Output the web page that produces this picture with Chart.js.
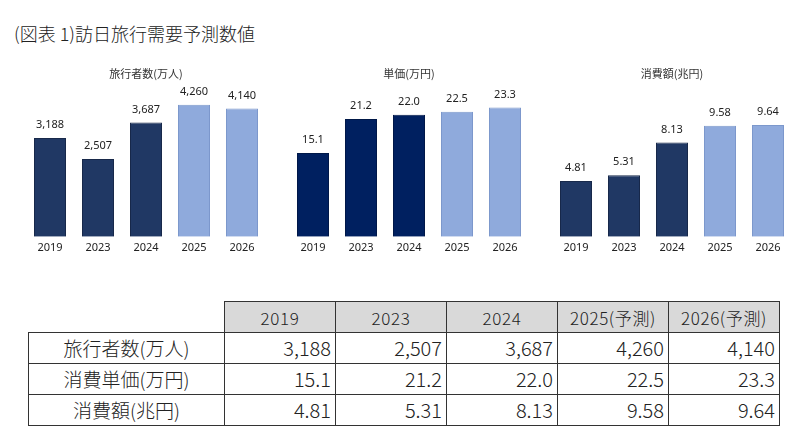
<!DOCTYPE html>
<html>
<head>
<meta charset="utf-8">
<script src="https://cdn.jsdelivr.net/npm/chart.js@4"></script>
<style>
  body { margin: 0; background: #fff; width: 800px; height: 446px; position: relative; overflow: hidden;
         font-family: "Noto Sans CJK JP", "Noto Sans", sans-serif; color: #222; }
  #title { position: absolute; left: 14px; top: 21px; font-size: 18px; line-height: 24px; font-weight: 300; }
  .box { position: absolute; top: 64px; width: 240px; height: 194px; }
  table { position: absolute; left: 28px; top: 301px; border-collapse: collapse; table-layout: fixed; font-weight: 300; }
  td, th { border: 1.5px solid #333; padding: 0; }
  th { background: #d9d9d9; font-weight: 300; font-size: 17px; letter-spacing: 0.6px; height: 30px; text-align: center; }
  th.blank { background: #fff; border-top: none; border-left: none; }
  td { font-size: 20px; text-align: right; padding-right: 4px; height: 30px; line-height: 30px; }
  td.label { font-size: 19px; text-align: center; padding-right: 0; }
</style>
</head>
<body>
<div id="title">(図表 1)訪日旅行需要予測数値</div>
<div class="box" style="left:26px"><canvas id="c1"></canvas></div>
<div class="box" style="left:289px"><canvas id="c2"></canvas></div>
<div class="box" style="left:552px"><canvas id="c3"></canvas></div>
<table id="tbl"></table>
<script>
// data
const years = ['2019', '2023', '2024', '2025', '2026'];
const headerLabels = ['2019', '2023', '2024', '2025(予測)', '2026(予測)'];
const visitors = [3188, 2507, 3687, 4260, 4140];     // 万人
const unitSpend = [15.1, 21.2, 22.0, 22.5, 23.3];    // 万円
const totalSpend = [4.81, 5.31, 8.13, 9.58, 9.64];   // 兆円
const rowLabels = ['旅行者数(万人)', '消費単価(万円)', '消費額(兆円)'];

const lightBlue = '#8faadc';
const lightBorder = '#7c98cc';

// value labels above each bar
const valueLabels = {
    id: 'valueLabels',
    afterDatasetsDraw(chart, args, opts) {
        const ctx = chart.ctx;
        const meta = chart.getDatasetMeta(0);
        ctx.save();
        ctx.fillStyle = '#222';
        ctx.font = '11px "Noto Sans", sans-serif';
        ctx.textAlign = 'center';
        ctx.textBaseline = 'middle';
        meta.data.forEach((bar, i) => {
            const v = chart.data.datasets[0].data[i];
            ctx.fillText(opts.format(v), bar.x, bar.y - 13);
        });
        ctx.restore();
    }
};

function makeChart(id, title, values, darkColor, darkBorder, yMax, format) {
    const colors = values.map((v, i) => i < 3 ? darkColor : lightBlue);
    const borders = values.map((v, i) => i < 3 ? darkBorder : lightBorder);
    return new Chart(document.getElementById(id), {
        type: 'bar',
        data: {
            labels: years,
            datasets: [{
                data: values,
                backgroundColor: colors,
                borderColor: borders,
                borderWidth: 1,
                barPercentage: 0.667,
                categoryPercentage: 1
            }]
        },
        options: {
            responsive: true,
            maintainAspectRatio: false,
            animation: false,
            layout: { padding: 0 },
            plugins: {
                legend: { display: false },
                tooltip: { enabled: false },
                title: {
                    display: true,
                    text: title,
                    color: '#333',
                    font: { family: '"Noto Sans CJK JP", sans-serif', size: 11, weight: 'normal' },
                    padding: { top: 3, bottom: 0 }
                },
                valueLabels: { format: format }
            },
            scales: {
                x: {
                    grid: { display: false, drawTicks: false },
                    border: { display: false },
                    ticks: { color: '#222', padding: 4, font: { family: '"Noto Sans", sans-serif', size: 11 } }
                },
                y: { display: false, min: 0, max: yMax }
            }
        },
        plugins: [valueLabels]
    });
}

makeChart('c1', '旅行者数(万人)', visitors, '#203864', '#18294a', 5050, v => v.toLocaleString('en-US'));
makeChart('c2', '単価(万円)', unitSpend, '#002060', '#001848', 28.2, v => v.toFixed(1));
makeChart('c3', '消費額(兆円)', totalSpend, '#203864', '#18294a', 13.5, v => v.toFixed(2));

// table
const tbl = document.getElementById('tbl');
let html = '<colgroup><col style="width:196px">' + headerLabels.map(() => '<col style="width:111px">').join('') + '</colgroup>';
html += '<tr><th class="blank"></th>' + headerLabels.map(h => '<th>' + h + '</th>').join('') + '</tr>';
const rows = [
    visitors.map(v => v.toLocaleString('en-US')),
    unitSpend.map(v => v.toFixed(1)),
    totalSpend.map(v => v.toFixed(2))
];
rows.forEach((r, i) => {
    html += '<tr><td class="label">' + rowLabels[i] + '</td>' + r.map(c => '<td>' + c + '</td>').join('') + '</tr>';
});
tbl.innerHTML = html;
</script>
</body>
</html>
